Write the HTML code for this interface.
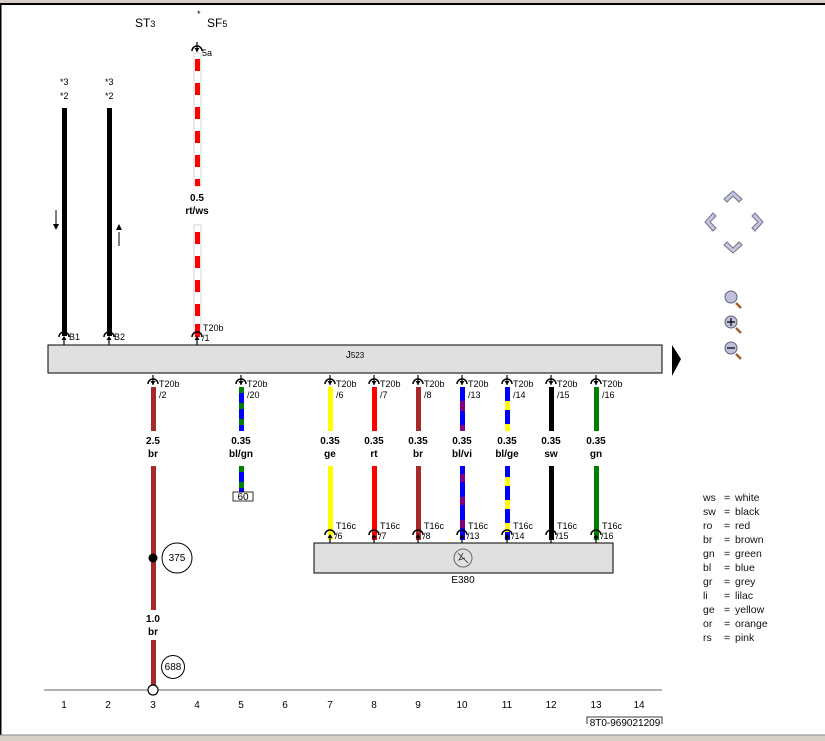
<!DOCTYPE html>
<html><head><meta charset="utf-8"><style>
html,body{margin:0;padding:0;background:#fff;}
svg{display:block;font-family:"Liberation Sans",Arial,sans-serif;}
.s{font-size:9px;fill:#000}
.b{font-size:10px;font-weight:bold;fill:#000;text-anchor:middle}
.n{font-size:10px;fill:#000;text-anchor:middle}
.lg{font-size:10.5px;fill:#111}
</style></head><body>
<svg width="825" height="741" viewBox="0 0 825 741" xmlns="http://www.w3.org/2000/svg">
<defs>
<g id="cd"><path d="M-5,3 A5,5 0 0 1 5,3" fill="none" stroke="#000" stroke-width="1.5"/><line x1="0" y1="-6" x2="0" y2="4" stroke="#000" stroke-width="1.2"/><path d="M-2.5,0 L2.5,0 L0,4 Z" fill="#000"/></g>
<g id="cu"><path d="M-5,-3 A5,5 0 0 1 5,-3" fill="none" stroke="#000" stroke-width="1.5"/><line x1="0" y1="-3" x2="0" y2="6" stroke="#000" stroke-width="1.2"/><path d="M-2.5,0 L2.5,0 L0,-4 Z" fill="#000"/></g>
</defs>
<rect x="0" y="0" width="825" height="3" fill="#d4d0c8"/>
<rect x="0" y="3" width="825" height="2" fill="#000"/>
<rect x="0" y="5" width="1.5" height="731" fill="#000"/>
<rect x="0" y="735" width="825" height="6" fill="#d4d0c8"/>
<line x1="0" y1="735" x2="825" y2="735" stroke="#888"/>

<!-- top labels -->
<text x="135" y="27" font-size="12">ST<tspan font-size="9">3</tspan></text>
<text x="197" y="17" font-size="9">*</text>
<text x="207" y="27" font-size="12">SF<tspan font-size="9">5</tspan></text>
<text x="60" y="85" class="s">*3</text><text x="60" y="99" class="s">*2</text>
<text x="105" y="85" class="s">*3</text><text x="105" y="99" class="s">*2</text>

<!-- col1 / col2 black wires -->
<rect x="62" y="108" width="5" height="228" fill="#000"/>
<rect x="107" y="108" width="5" height="228" fill="#000"/>
<line x1="56" y1="210" x2="56" y2="224" stroke="#000"/><path d="M53,224 L59,224 L56,230 Z" fill="#000"/>
<line x1="119" y1="232" x2="119" y2="246" stroke="#000"/><path d="M116,230 L122,230 L119,224 Z" fill="#000"/>
<use href="#cu" x="64" y="340"/><text x="69" y="340" class="s">B1</text>
<use href="#cu" x="109" y="340"/><text x="114" y="340" class="s">B2</text>

<!-- col4 rt/ws -->
<use href="#cd" x="197" y="48"/><text x="202" y="56" class="s" font-size="8">5a</text>
<rect x="194" y="53" width="7" height="133" fill="#fff" stroke="#ccc" stroke-width="0.8"/>
<line x1="197.5" y1="59" x2="197.5" y2="186" stroke="#f00" stroke-width="5" stroke-dasharray="12,12"/>
<text x="197" y="201" class="b">0.5</text><text x="197" y="214" class="b">rt/ws</text>
<rect x="194" y="225" width="7" height="112" fill="#fff" stroke="#ccc" stroke-width="0.8"/>
<line x1="197.5" y1="232" x2="197.5" y2="337" stroke="#f00" stroke-width="5" stroke-dasharray="12,12"/>
<rect x="195" y="324" width="5" height="13" fill="#f00"/>
<use href="#cu" x="197" y="340"/><text x="203" y="331" class="s">T20b</text><text x="202" y="341" class="s">/1</text>

<!-- J523 -->
<rect x="48" y="345" width="614" height="28" fill="#e0e0e0" stroke="#000" stroke-width="1"/>
<text x="355" y="358" font-size="10" text-anchor="middle">J<tspan font-size="8">523</tspan></text>
<path d="M672,345 L681,359 L672,376 Z" fill="#000"/>

<!-- col3 brown -->
<use href="#cd" x="153" y="381"/><text x="159" y="387" class="s">T20b</text><text x="159" y="398" class="s">/2</text>
<rect x="151" y="387" width="5" height="44" fill="#a52a2a"/>
<text x="153" y="444" class="b">2.5</text><text x="153" y="457" class="b">br</text>
<rect x="151" y="466" width="5" height="144" fill="#a52a2a"/>
<circle cx="153" cy="558" r="4.5" fill="#000"/>
<circle cx="177" cy="558" r="15" fill="#fff" stroke="#000"/><text x="177" y="561" class="n" font-size="9">375</text>
<text x="153" y="622" class="b">1.0</text><text x="153" y="635" class="b">br</text>
<rect x="151" y="640" width="5" height="48" fill="#a52a2a"/>
<circle cx="173" cy="667" r="11.5" fill="#fff" stroke="#000"/><text x="173" y="670" class="n" font-size="8">688</text>

<!-- col5 bl/gn -->
<use href="#cd" x="241" y="381"/><text x="247" y="387" class="s">T20b</text><text x="247" y="398" class="s">/20</text>
<rect x="239" y="387" width="5" height="44" fill="#0000ff"/>
<line x1="241.5" y1="387" x2="241.5" y2="431" stroke="#008000" stroke-width="5" stroke-dasharray="6,10"/>
<text x="241" y="444" class="b">0.35</text><text x="241" y="457" class="b">bl/gn</text>
<rect x="239" y="466" width="5" height="26" fill="#0000ff"/>
<line x1="241.5" y1="466" x2="241.5" y2="492" stroke="#008000" stroke-width="5" stroke-dasharray="6,10"/>
<rect x="233" y="492" width="20" height="9" fill="#fff" stroke="#000" stroke-width="0.8"/><text x="243" y="500" class="n" font-size="8">60</text>

<!-- E380 group wires -->
<g>
<!-- col7 ge -->
<use href="#cd" x="330" y="381"/><text x="336" y="387" class="s">T20b</text><text x="336" y="398" class="s">/6</text>
<rect x="328" y="387" width="5" height="44" fill="#ffff00"/><rect x="328" y="466" width="5" height="74" fill="#ffff00"/>
<text x="330" y="444" class="b">0.35</text><text x="330" y="457" class="b">ge</text>
<use href="#cu" x="330" y="538"/><text x="336" y="529" class="s">T16c</text><text x="335" y="539" class="s">/6</text>
<!-- col8 rt -->
<use href="#cd" x="374" y="381"/><text x="380" y="387" class="s">T20b</text><text x="380" y="398" class="s">/7</text>
<rect x="372" y="387" width="5" height="44" fill="#ff0000"/><rect x="372" y="466" width="5" height="74" fill="#ff0000"/>
<text x="374" y="444" class="b">0.35</text><text x="374" y="457" class="b">rt</text>
<use href="#cu" x="374" y="538"/><text x="380" y="529" class="s">T16c</text><text x="379" y="539" class="s">/7</text>
<!-- col9 br -->
<use href="#cd" x="418" y="381"/><text x="424" y="387" class="s">T20b</text><text x="424" y="398" class="s">/8</text>
<rect x="416" y="387" width="5" height="44" fill="#a52a2a"/><rect x="416" y="466" width="5" height="74" fill="#a52a2a"/>
<text x="418" y="444" class="b">0.35</text><text x="418" y="457" class="b">br</text>
<use href="#cu" x="418" y="538"/><text x="424" y="529" class="s">T16c</text><text x="423" y="539" class="s">/8</text>
<!-- col10 bl/vi -->
<use href="#cd" x="462" y="381"/><text x="468" y="387" class="s">T20b</text><text x="468" y="398" class="s">/13</text>
<rect x="460" y="387" width="5" height="44" fill="#0000ff"/><rect x="460" y="466" width="5" height="74" fill="#0000ff"/>
<line x1="462.5" y1="401" x2="462.5" y2="431" stroke="#800080" stroke-width="5" stroke-dasharray="10,14"/>
<line x1="462.5" y1="474" x2="462.5" y2="540" stroke="#800080" stroke-width="5" stroke-dasharray="8,15"/>
<text x="462" y="444" class="b">0.35</text><text x="462" y="457" class="b">bl/vi</text>
<use href="#cu" x="462" y="538"/><text x="468" y="529" class="s">T16c</text><text x="467" y="539" class="s">/13</text>
<!-- col11 bl/ge -->
<use href="#cd" x="507" y="381"/><text x="513" y="387" class="s">T20b</text><text x="513" y="398" class="s">/14</text>
<rect x="505" y="387" width="5" height="44" fill="#0000ff"/><rect x="505" y="466" width="5" height="74" fill="#0000ff"/>
<line x1="507.5" y1="401" x2="507.5" y2="431" stroke="#ffff00" stroke-width="5" stroke-dasharray="9,14"/>
<line x1="507.5" y1="477" x2="507.5" y2="540" stroke="#ffff00" stroke-width="5" stroke-dasharray="9,14"/>
<text x="507" y="444" class="b">0.35</text><text x="507" y="457" class="b">bl/ge</text>
<use href="#cu" x="507" y="538"/><text x="513" y="529" class="s">T16c</text><text x="512" y="539" class="s">/14</text>
<!-- col12 sw -->
<use href="#cd" x="551" y="381"/><text x="557" y="387" class="s">T20b</text><text x="557" y="398" class="s">/15</text>
<rect x="549" y="387" width="5" height="44" fill="#000"/><rect x="549" y="466" width="5" height="74" fill="#000"/>
<text x="551" y="444" class="b">0.35</text><text x="551" y="457" class="b">sw</text>
<use href="#cu" x="551" y="538"/><text x="557" y="529" class="s">T16c</text><text x="556" y="539" class="s">/15</text>
<!-- col13 gn -->
<use href="#cd" x="596" y="381"/><text x="602" y="387" class="s">T20b</text><text x="602" y="398" class="s">/16</text>
<rect x="594" y="387" width="5" height="44" fill="#008000"/><rect x="594" y="466" width="5" height="74" fill="#008000"/>
<text x="596" y="444" class="b">0.35</text><text x="596" y="457" class="b">gn</text>
<use href="#cu" x="596" y="538"/><text x="602" y="529" class="s">T16c</text><text x="601" y="539" class="s">/16</text>
</g>

<!-- E380 -->
<rect x="314" y="543" width="299" height="30" fill="#e0e0e0" stroke="#000" stroke-width="1"/>
<circle cx="463" cy="558" r="9" fill="none" stroke="#666"/>
<path d="M458,553 L468,563 M463,553 L459,560 L465,558" stroke="#333" fill="none" stroke-width="0.8"/>
<text x="463" y="583" class="n" font-size="10">E380</text>

<!-- baseline -->
<line x1="44" y1="690" x2="662" y2="690" stroke="#666" stroke-width="1"/>
<circle cx="153" cy="690" r="5" fill="#fff" stroke="#000" stroke-width="1.2"/>
<g class="n" font-size="10">
<text x="64" y="708" class="n">1</text><text x="108" y="708" class="n">2</text><text x="153" y="708" class="n">3</text><text x="197" y="708" class="n">4</text><text x="241" y="708" class="n">5</text><text x="285" y="708" class="n">6</text><text x="330" y="708" class="n">7</text><text x="374" y="708" class="n">8</text><text x="418" y="708" class="n">9</text><text x="462" y="708" class="n">10</text><text x="507" y="708" class="n">11</text><text x="551" y="708" class="n">12</text><text x="596" y="708" class="n">13</text><text x="639" y="708" class="n">14</text>
</g>
<path d="M587,724 L587,717 L662,717 L662,724" fill="none" stroke="#000" stroke-width="0.8"/>
<text x="625" y="726" class="n" font-size="9">8T0-969021209</text>

<!-- nav -->
<g fill="#c8c8dc" stroke="#707090" stroke-width="1">
<path d="M724,199 L733,191 L742,199 L739,202 L733,196 L727,202 Z"/>
<path d="M724,245 L733,253 L742,245 L739,242 L733,248 L727,242 Z"/>
<path d="M713,213 L705,222 L713,231 L716,228 L710,222 L716,216 Z"/>
<path d="M755,213 L763,222 L755,231 L752,228 L758,222 L752,216 Z"/>
</g>
<g stroke="#a06030" stroke-width="2.5"><line x1="736" y1="303" x2="741" y2="308"/><line x1="736" y1="328" x2="741" y2="333"/><line x1="736" y1="354" x2="741" y2="359"/></g>
<g fill="#c0c0d8" stroke="#606080"><circle cx="731" cy="297" r="6"/><circle cx="731" cy="322" r="6"/><circle cx="731" cy="348" r="6"/></g>
<path d="M727,322 L735,322 M731,318 L731,326 M727,348 L735,348" stroke="#000" stroke-width="1.2"/>

<!-- legend -->
<g class="lg">
<text x="703" y="501">ws</text><text x="724" y="501">=</text><text x="735" y="501">white</text>
<text x="703" y="515">sw</text><text x="724" y="515">=</text><text x="735" y="515">black</text>
<text x="703" y="529">ro</text><text x="724" y="529">=</text><text x="735" y="529">red</text>
<text x="703" y="543">br</text><text x="724" y="543">=</text><text x="735" y="543">brown</text>
<text x="703" y="557">gn</text><text x="724" y="557">=</text><text x="735" y="557">green</text>
<text x="703" y="571">bl</text><text x="724" y="571">=</text><text x="735" y="571">blue</text>
<text x="703" y="585">gr</text><text x="724" y="585">=</text><text x="735" y="585">grey</text>
<text x="703" y="599">li</text><text x="724" y="599">=</text><text x="735" y="599">lilac</text>
<text x="703" y="613">ge</text><text x="724" y="613">=</text><text x="735" y="613">yellow</text>
<text x="703" y="627">or</text><text x="724" y="627">=</text><text x="735" y="627">orange</text>
<text x="703" y="641">rs</text><text x="724" y="641">=</text><text x="735" y="641">pink</text>
</g>
</svg>
</body></html>
